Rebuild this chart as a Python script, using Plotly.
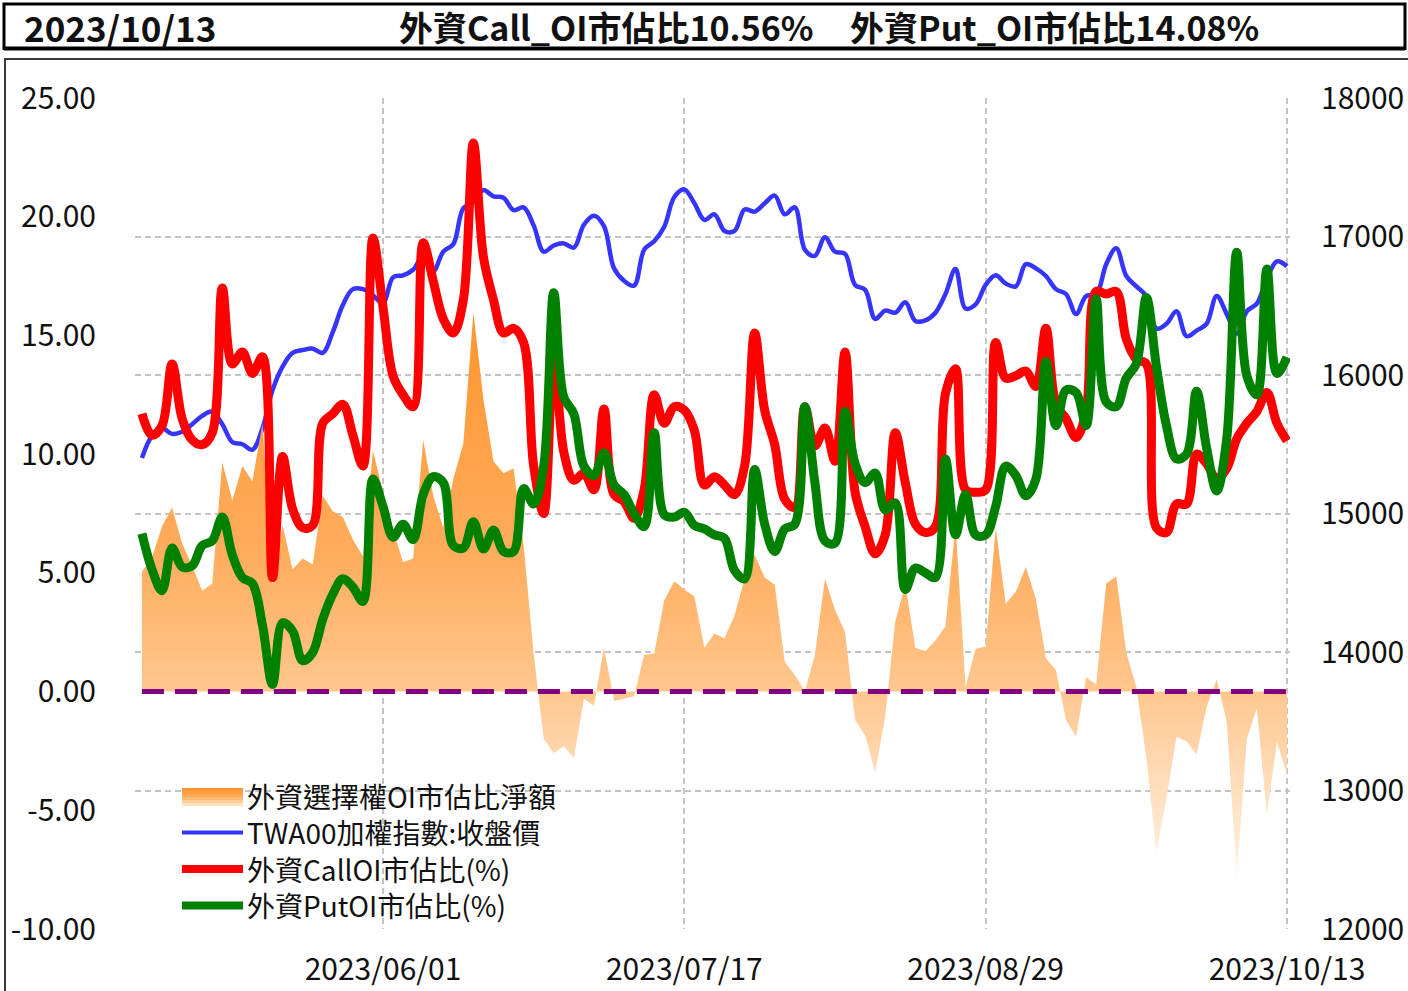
import plotly.graph_objects as go

# ---------------- data ----------------
date_ticks = ["2023/06/01", "2023/07/17", "2023/08/29", "2023/10/13"]
date_tick_idx = [24, 54, 84, 114]

call_pct = [
    11.7, 10.8, 11.2, 13.8, 11.5, 10.6, 10.4, 10.9, 17.0, 13.8,
    14.3, 13.4, 14.1, 4.8, 9.9, 7.7, 6.9, 7.0, 11.3, 11.7,
    12.1, 10.8, 9.5, 19.1, 16.2, 13.3, 12.5, 12.0, 18.9, 17.3,
    15.7, 15.1, 16.5, 23.1, 18.3, 16.5, 15.1, 15.3, 14.7, 9.5,
    7.5, 14.2, 10.1, 8.9, 9.2, 8.5, 11.9, 8.3, 8.0, 7.3,
    8.5, 12.5, 11.3, 12.0, 11.85, 11.0, 8.7, 9.05, 8.7, 8.3,
    9.5, 15.1, 11.85, 10.4, 8.1, 7.75, 12.0, 10.35, 11.1, 9.7,
    14.3, 8.4, 6.95, 5.8, 6.6, 10.9, 8.8, 7.05, 6.7, 6.95,
    12.55, 13.6, 8.5, 8.4, 8.5, 14.7, 13.2, 13.3, 13.5, 12.85,
    15.3, 12.1, 11.5, 10.7, 11.8, 16.85, 16.75, 16.85, 14.85, 14.0,
    13.8, 6.9, 6.7, 7.9, 7.9, 10.0, 9.6, 8.95, 9.4, 10.65,
    11.3, 11.8, 12.6, 11.3, 10.56,
]

put_pct = [
    6.65, 5.15, 4.25, 6.05, 5.25, 5.3, 6.15, 6.35, 7.35, 5.75,
    4.8, 4.55, 2.8, 0.3, 2.9, 2.55, 1.3, 1.65, 3.05, 4.1,
    4.75, 4.4, 3.8, 8.95, 7.8, 6.5, 7.05, 6.4, 8.3, 9.05,
    8.8, 6.15, 6.05, 7.15, 6.0, 6.8, 5.9, 5.9, 8.55, 7.9,
    9.5, 16.8, 12.4, 11.7, 9.5, 9.1, 10.05, 8.7, 8.3, 7.5,
    6.95, 10.9, 7.45, 7.35, 7.55, 7.0, 6.85, 6.6, 6.45, 5.1,
    4.75, 9.35, 7.05, 5.9, 6.85, 7.05, 12.0, 8.8, 6.35, 6.25,
    11.8, 9.6, 8.8, 9.2, 7.65, 7.95, 4.3, 5.2, 5.0, 4.8,
    9.8, 6.6, 8.3, 6.6, 6.6, 7.8, 9.5, 9.1, 8.25, 8.95,
    13.9, 11.2, 12.7, 12.6, 11.2, 16.55, 12.2, 12.0, 13.2, 13.8,
    16.6, 13.7, 11.2, 9.8, 10.0, 12.65, 10.25, 8.45, 10.65, 18.5,
    13.3, 12.5, 17.8, 13.4, 14.08,
]

net_pct = [
    5.05, 5.65, 6.95, 7.75, 6.25, 5.3, 4.25, 4.55, 9.65, 8.05,
    9.5, 8.85, 11.3, 4.5, 7.0, 5.15, 5.6, 5.35, 8.25, 7.6,
    7.35, 6.4, 5.7, 10.15, 8.4, 6.8, 5.45, 5.6, 10.6, 8.25,
    6.9, 8.95, 10.45, 15.95, 12.3, 9.7, 9.2, 9.4, 6.15, 1.6,
    -2.0, -2.6, -2.3, -2.8, -0.3, -0.6, 1.85, -0.4, -0.3, -0.2,
    1.55, 1.6, 3.85, 4.65, 4.3, 4.0, 1.85, 2.45, 2.25, 3.2,
    4.75, 5.75, 4.8, 4.5, 1.25, 0.7, 0.0, 1.55, 4.75, 3.45,
    2.5, -1.2, -1.85, -3.4, -1.05, 2.95, 4.5, 1.85, 1.7, 2.15,
    2.75, 7.0, 0.2, 1.8, 1.9, 6.9, 3.7, 4.2, 5.25, 3.9,
    1.4, 0.9, -1.2, -1.9, 0.6, 0.3, 4.55, 4.85, 1.65, 0.2,
    -2.8, -6.8, -4.5, -1.9, -2.1, -2.65, -0.65, 0.5, -1.25, -7.85,
    -2.0, -0.7, -5.2, -2.1, -3.52,
]

twa00_close = [
    15400, 15560, 15615, 15575, 15590, 15645, 15705, 15735, 15645, 15515,
    15500, 15460, 15615, 15890, 16060, 16160, 16180, 16190, 16160, 16310,
    16505, 16620, 16620, 16575, 16520, 16705, 16720, 16760, 16860, 16750,
    16890, 16945, 17205, 17250, 17335, 17290, 17280, 17190, 17210, 17080,
    16890, 16935, 16950, 16920, 17085, 17150, 17075, 16770, 16680, 16645,
    16905, 16965, 17070, 17285, 17340, 17240, 17120, 17160, 17040, 17040,
    17195, 17180, 17240, 17295, 17160, 17210, 16905, 16860, 16995, 16890,
    16875, 16650, 16615, 16405, 16465, 16450, 16525, 16390, 16395, 16450,
    16585, 16765, 16480, 16510, 16650, 16720, 16660, 16640, 16800, 16770,
    16715, 16620, 16585, 16440, 16570, 16580, 16800, 16915, 16715, 16640,
    16570, 16335, 16370, 16460, 16280, 16320, 16370, 16570, 16440, 16300,
    16460, 16515, 16695, 16820, 16785,
]

left_tick_vals = [-10, -5, 0, 5, 10, 15, 20, 25]
left_tick_text = ["-10.00", "-5.00", "0.00", "5.00", "10.00", "15.00", "20.00", "25.00"]
right_ticks = [12000, 13000, 14000, 15000, 16000, 17000, 18000]

title_date = "2023/10/13"
title_call = "外資Call_OI市佔比10.56%"
title_put = "外資Put_OI市佔比14.08%"

legend_names = ["外資選擇權OI市佔比淨額", "TWA00加權指數:收盤價", "外資CallOI市佔比(%)", "外資PutOI市佔比(%)"]

# ---------------- figure ----------------
FONT = "Noto Sans CJK TC"
W, H = 1408, 991
L, R, T, B = 135, 118, 98, 62
PW, PH = W - L - R, H - T - B


def px(X):
    return (X - L) / PW


def py(Y):
    return (H - B - Y) / PH


BLUE, RED, GREEN, PURPLE = "#3535FF", "#FF0000", "#008000", "#800080"

x = list(range(len(call_pct)))

fig = go.Figure()

fig.add_trace(go.Scatter(
    x=x, y=twa00_close, name=legend_names[1], mode="lines",
    line=dict(color=BLUE, width=4.5, shape="spline"),
    yaxis="y", showlegend=False, hoverinfo="skip"))

fig.add_trace(go.Scatter(
    x=x, y=net_pct, name=legend_names[0], mode="none",
    fill="tozeroy",
    fillgradient=dict(type="vertical", start=-8, stop=16,
                      colorscale=[[0, "#FFF7EE"], [0.125, "#FFE3C6"],
                                  [0.333, "#FFC78F"], [0.58, "#FFAC5C"],
                                  [1, "#FF952E"]]),
    yaxis="y2", showlegend=False, hoverinfo="skip"))

fig.add_trace(go.Scatter(
    x=[x[0], x[-1]], y=[0, 0], mode="lines",
    line=dict(color=PURPLE, width=5, dash="22px,11px"),
    yaxis="y2", showlegend=False, hoverinfo="skip"))

fig.add_trace(go.Scatter(
    x=x, y=call_pct, name=legend_names[2], mode="lines",
    line=dict(color=RED, width=9, shape="spline"),
    yaxis="y2", showlegend=False, hoverinfo="skip"))

fig.add_trace(go.Scatter(
    x=x, y=put_pct, name=legend_names[3], mode="lines",
    line=dict(color=GREEN, width=9, shape="spline"),
    yaxis="y2", showlegend=False, hoverinfo="skip"))

grid = dict(gridcolor="#C4C4C4", griddash="6px,4px", gridwidth=1.5)

fig.update_layout(
    width=W, height=H,
    margin=dict(l=L, r=R, t=T, b=B, pad=0, autoexpand=False),
    paper_bgcolor="white", plot_bgcolor="white",
    font=dict(family=FONT, size=30, color="#111111"),
    showlegend=False,
    xaxis=dict(range=[-0.69, 114.3], tickvals=date_tick_idx, ticktext=date_ticks,
               showgrid=True, zeroline=False, showline=False, ticks="",
               automargin=False,
               tickfont=dict(size=30), ticklabelstandoff=20, **grid),
    yaxis=dict(side="right", range=[12000, 18000], tickvals=right_ticks,
               tickformat="d", showgrid=True, zeroline=False, showline=False,
               automargin=False,
               ticks="", ticklabelstandoff=30, **grid),
    yaxis2=dict(overlaying="y", side="left", range=[-10, 25],
                tickvals=left_tick_vals, ticktext=left_tick_text,
                showgrid=False, zeroline=False, showline=False,
                automargin=False,
                ticks="", ticklabelstandoff=38),
)

# legend rows (one text block, rows 36.4 px apart)
row_y = [796, 832.5, 869, 905.5]

shapes = [
    # title frame
    dict(type="rect", xref="paper", yref="paper",
         x0=px(4), x1=px(1405), y0=py(48.5), y1=py(4),
         line=dict(color="black", width=3)),
    dict(type="line", xref="paper", yref="paper",
         x0=px(4), x1=px(1405), y0=py(48.5), y1=py(48.5),
         line=dict(color="black", width=4)),
    # chart frame
    dict(type="line", xref="paper", yref="paper",
         x0=px(4), x1=px(1408), y0=py(59), y1=py(59),
         line=dict(color="#3A3A3A", width=2)),
    dict(type="line", xref="paper", yref="paper",
         x0=px(5), x1=px(5), y0=py(59), y1=py(991),
         line=dict(color="#3A3A3A", width=2)),
    # legend background
    dict(type="rect", xref="paper", yref="paper", layer="between",
         x0=px(176), x1=px(582), y0=py(922), y1=py(781),
         fillcolor="white", line=dict(width=0)),
]

# legend swatch: gradient bar for the area series
swatch_cols = ["#FF9530", "#FF9E40", "#FFAA56", "#FFBA75", "#FFCC98", "#FFE0BF"]
sy0 = row_y[0] - 8
for i, c in enumerate(swatch_cols):
    shapes.append(dict(type="rect", xref="paper", yref="paper", layer="above",
                       x0=px(182), x1=px(243), y0=py(sy0 + 3 * i + 3), y1=py(sy0 + 3 * i),
                       fillcolor=c, line=dict(width=0)))
for yy, col, wd in [(row_y[1], BLUE, 4), (row_y[2], RED, 8), (row_y[3], GREEN, 8)]:
    shapes.append(dict(type="line", xref="paper", yref="paper", layer="above",
                       x0=px(182), x1=px(243), y0=py(yy), y1=py(yy),
                       line=dict(color=col, width=wd)))
fig.update_layout(shapes=shapes)

fig.add_annotation(text="<br>".join(legend_names), xref="paper", yref="paper",
                   x=px(245), y=py((row_y[0] + row_y[3]) / 2),
                   xanchor="left", yanchor="middle", align="left", showarrow=False,
                   font=dict(family=FONT, size=28, color="#111111"))

TY = 26.5
fig.add_annotation(text=title_date, xref="paper", yref="paper", x=px(22), y=py(TY),
                   xanchor="left", yanchor="middle", showarrow=False,
                   font=dict(family=FONT, size=35, color="#111111", weight="bold"))
fig.add_annotation(text=title_call, xref="paper", yref="paper", x=px(606), y=py(TY),
                   xanchor="center", yanchor="middle", showarrow=False,
                   font=dict(family=FONT, size=34, color="#111111", weight="bold"))
fig.add_annotation(text=title_put, xref="paper", yref="paper", x=px(1054), y=py(TY),
                   xanchor="center", yanchor="middle", showarrow=False,
                   font=dict(family=FONT, size=34, color="#111111", weight="bold"))

fig.write_html("out.html", config={"displayModeBar": False},
               post_script="document.body.style.margin='0px';")
